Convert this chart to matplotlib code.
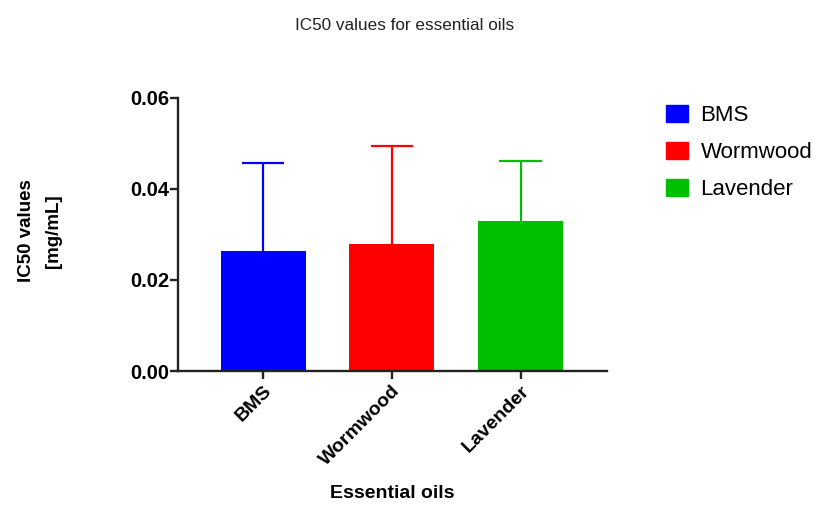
import matplotlib
matplotlib.use("Agg")
import matplotlib.pyplot as plt
from matplotlib.patches import Patch

plt.rcParams['font.family'] = ['Liberation Sans', 'DejaVu Sans']

oils = ["BMS", "Wormwood", "Lavender"]
ic50 = [0.0264, 0.0278, 0.0329]
sd = [0.0192, 0.0217, 0.0132]
colors = ["#0000ff", "#ff0000", "#00bf00"]
yticks = [0.00, 0.02, 0.04, 0.06]

BAR_W = 0.66
CAP_HALF = BAR_W / 4

fig = plt.figure(figsize=(8.23, 5.05), dpi=100)
ax = fig.add_axes([0.2163, 0.2653, 0.5213, 0.5412])

x = list(range(len(oils)))
ax.bar(x, ic50, width=BAR_W, color=colors, zorder=2)
# upper-only error bars (mean + SD) with a single cap
for xi, v, e, c in zip(x, ic50, sd, colors):
    ax.vlines(xi, v, v + e, colors=c, linewidth=1.6, zorder=1)
    ax.hlines(v + e, xi - CAP_HALF, xi + CAP_HALF, colors=c, linewidth=1.6, zorder=1)

ax.set_xlim(-0.66, 2.67)
ax.set_ylim(0, 0.06)
ax.set_yticks(yticks)
ax.set_yticklabels([f"{t:.2f}" for t in yticks], fontsize=14.5, fontweight='bold')
ax.set_xticks(x)
ax.set_xticklabels(oils, rotation=45, ha='right', rotation_mode='anchor',
                   fontsize=14, fontweight='bold')
for s in ('top', 'right'):
    ax.spines[s].set_visible(False)
for s in ('left', 'bottom'):
    ax.spines[s].set_linewidth(1.7)
    ax.spines[s].set_color('#222222')
ax.tick_params(axis='y', width=1.7, length=6, pad=0.5, color='#222222')
ax.tick_params(axis='x', width=1.7, length=6, pad=2, color='#222222')

fig.text(392 / 823, 1 - 493 / 505, "Essential oils", ha='center', va='center',
         fontsize=14, fontweight='bold')
fig.text(40 / 823, 1 - 231 / 505, "IC50 values\n[mg/mL]", rotation=90,
         ha='center', va='center', fontsize=13.5, fontweight='bold',
         linespacing=1.75)
fig.text(405 / 823, 1 - 25 / 505, "IC50 values for essential oils",
         ha='center', va='center', fontsize=12.3, color='#222222')

handles = [Patch(facecolor=c, edgecolor=c) for c in colors]
fig.legend(handles, oils, loc='upper left', bbox_to_anchor=(666 / 823, 1 - 105 / 505),
           frameon=False, fontsize=16, handlelength=1.0, handleheight=0.77,
           labelspacing=0.72, handletextpad=0.55, borderpad=0, borderaxespad=0)

fig.savefig("out.png", dpi=100)
